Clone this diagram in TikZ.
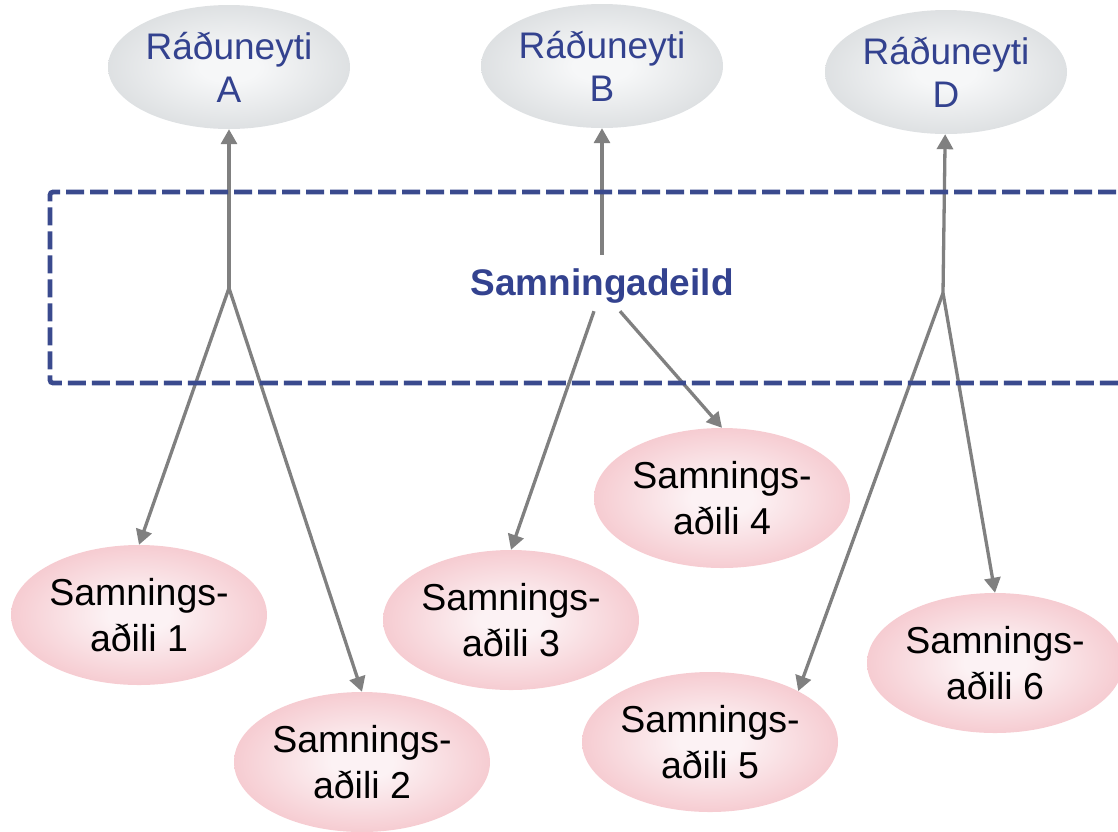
\documentclass[tikz,border=0pt]{standalone}
\usepackage{fontspec}
\setmainfont{Liberation Sans}
\usetikzlibrary{shapes.geometric,arrows.meta}
\definecolor{gcen}{HTML}{F6F7F8}
\definecolor{gmid}{HTML}{DADDDF}
\definecolor{gedge}{HTML}{BABEC1}
\definecolor{pcen}{HTML}{FCF2F4}
\definecolor{pmid}{HTML}{F5C6CC}
\definecolor{pedge}{HTML}{EEA2A8}
\definecolor{navy}{HTML}{33428F}
\definecolor{boxblue}{HTML}{3A4A8E}
\definecolor{arrgray}{HTML}{808080}
\pgfdeclareradialshading{greyell}{\pgfpoint{0bp}{0bp}}{color(0bp)=(gcen); color(6bp)=(gcen); color(28bp)=(gmid); color(50bp)=(gedge)}
\pgfdeclareradialshading{pinkell}{\pgfpoint{0bp}{0bp}}{color(0bp)=(pcen); color(6bp)=(pcen); color(28bp)=(pmid); color(50bp)=(pedge)}
\tikzset{
  ministry/.style={ellipse, shading=greyell, minimum width=242pt, minimum height=124pt, inner sep=0pt,
    align=center, text=navy, font=\fontsize{37}{43}\selectfont},
  party/.style={ellipse, shading=pinkell, minimum width=256pt, minimum height=140pt, inner sep=0pt,
    align=center, text=black, font=\fontsize{37.5}{46}\selectfont},
  arr/.style={draw=arrgray, line width=3.3pt, -{Triangle[length=15pt,width=16pt]}},
  dashbox/.style={draw=boxblue, line width=4.8pt, dash pattern=on 18pt off 6pt, rounded corners=3pt},
}
\begin{document}
\begin{tikzpicture}[x=1pt,y=-1pt]
\useasboundingbox (0,0) rectangle (1118,831);
\clip (0,0) rectangle (1118,831);
% ministries
\node[ministry] (rA) at (229,67) {Ráðuneyti\\A};
\node[ministry] (rB) at (602,66) {Ráðuneyti\\B};
\node[ministry] (rD) at (946,72) {Ráðuneyti\\D};
% contracting parties
\node[party] (s1) at (139,615) {Samnings-\\aðili 1};
\node[party] (s2) at (362,762) {Samnings-\\aðili 2};
\node[party] (s3) at (511,620) {Samnings-\\aðili 3};
\node[party] (s4) at (722,498) {Samnings-\\aðili 4};
\node[party] (s5) at (710,742) {Samnings-\\aðili 5};
\node[party] (s6) at (995,663) {Samnings-\\aðili 6};
% department label
\node[inner sep=0pt, text=navy, font=\fontsize{37}{40}\selectfont\bfseries,
      text height=40pt, text depth=16pt, anchor=base] (sd) at (602,295) {Samningadeild};
% junctions
\coordinate (jA) at (229,288);
\coordinate (jD) at (943,293);
% connectors
\draw[arr] (jA) -- (rA);
\draw[arr] (jA) -- (s1.north);
\draw[arr] (jA) -- (s2.north);
\draw[arr] (sd.north) -- (rB);
\draw[arr] ([xshift=-8pt]sd.south) -- (s3.north);
\draw[arr] ([xshift=18pt]sd.south) -- (s4.north);
\draw[arr] (jD) -- (rD);
\draw[arr] (jD) -- (s5.30);
\draw[arr] (jD) -- (s6.north);
% dashed frame (runs off the right edge)
\draw[dashbox] (1140,192) -- (50,192) -- (50,383) -- (1140,383);
\end{tikzpicture}
\end{document}
